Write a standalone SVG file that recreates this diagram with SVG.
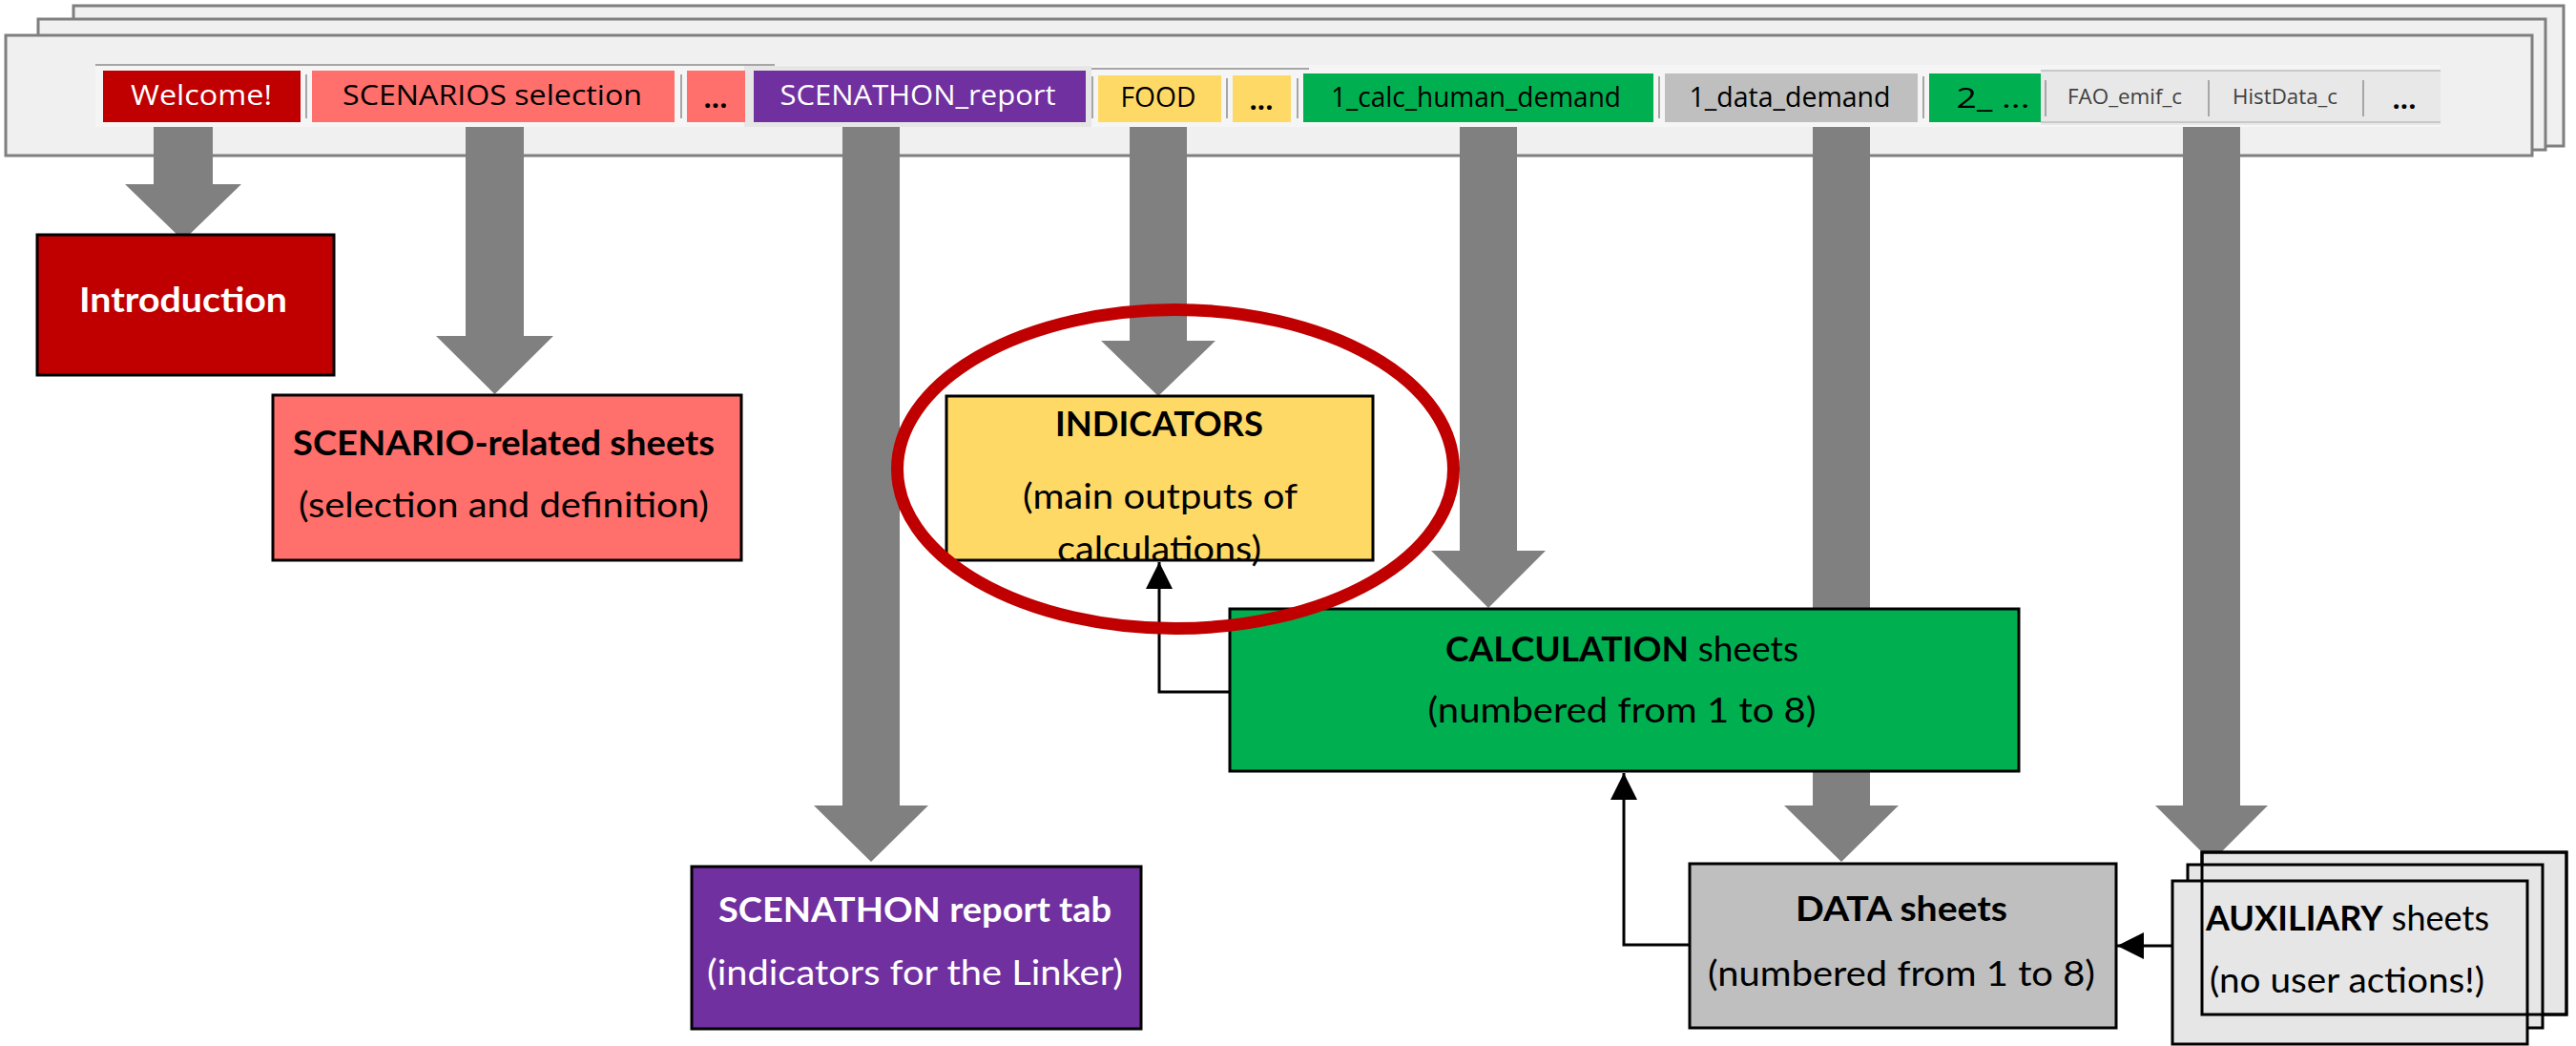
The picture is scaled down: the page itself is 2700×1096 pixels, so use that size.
<svg xmlns="http://www.w3.org/2000/svg" width="2700" height="1096" viewBox="0 0 2700 1096">
<style>
.sheet{fill:#f0f0f0;stroke:#7f7f7f;stroke-width:3}
.tab{stroke:none}
.tt{font-family:"Open Sans","Liberation Sans",sans-serif;font-size:29px;text-anchor:middle}
.ts{font-family:"Open Sans","Liberation Sans",sans-serif;font-size:21px;text-anchor:middle;fill:#404040}
.sep{stroke:#a6a6a6;stroke-width:2}
.shaft{fill:#808080}
.box{stroke:#000;stroke-width:3}
.t{font-family:Lato,"Open Sans",sans-serif;font-size:37px;text-anchor:middle;fill:#000}
.b{font-weight:bold}
.w{fill:#fff}
.conn{fill:none;stroke:#000;stroke-width:3}
</style>
<defs>
<marker id="ah" viewBox="0 0 10 10" refX="10" refY="5" markerWidth="28" markerHeight="28" markerUnits="userSpaceOnUse" orient="auto">
<path d="M0,0 L10,5 L0,10 Z" fill="#000"/>
</marker>
</defs>
<rect width="2700" height="1096" fill="#fff"/>

<g id="tabbar">
<rect class="sheet" x="77" y="6" width="2610" height="147"/>
<rect class="sheet" x="40" y="20" width="2628" height="137"/>
<rect class="sheet" x="6" y="37" width="2648" height="126"/>
<rect x="100" y="68" width="2458" height="65" fill="#f5f5f5"/>
<rect x="780" y="69" width="364" height="64" fill="#e6e6e6"/>
<rect x="2139" y="73" width="419" height="58" fill="#e8e8e8"/>
<line x1="100" y1="68" x2="812" y2="68" stroke="#a6a6a6" stroke-width="2"/>
<line x1="1144" y1="72" x2="1372" y2="72" stroke="#a6a6a6" stroke-width="2"/>
<line x1="2139" y1="74" x2="2558" y2="74" stroke="#c8c8c8" stroke-width="2"/>
<line x1="2139" y1="128" x2="2558" y2="128" stroke="#c8c8c8" stroke-width="2"/>
<g id="tab-welcome"><rect class="tab" x="108" y="74" width="207" height="54" fill="#c00000"/><text class="tt w" x="211" y="110" textLength="148" lengthAdjust="spacingAndGlyphs">Welcome!</text></g>
<line class="sep" x1="321" y1="78" x2="321" y2="124"/>
<g id="tab-scenarios"><rect class="tab" x="327" y="74" width="380" height="54" fill="#ff6f6b"/><text class="tt" x="516" y="110" textLength="314" lengthAdjust="spacingAndGlyphs">SCENARIOS selection</text></g>
<line class="sep" x1="714" y1="78" x2="714" y2="124"/>
<g id="tab-dots1"><rect class="tab" x="720" y="74" width="61" height="54" fill="#ff6f6b"/><text class="tt b" x="750" y="113">...</text></g>
<g id="tab-scenathon"><rect class="tab" x="790" y="74" width="348" height="54" fill="#7030a0"/><text class="tt w" x="962" y="110" textLength="289" lengthAdjust="spacingAndGlyphs">SCENATHON_report</text></g>
<line class="sep" x1="1145" y1="80" x2="1145" y2="124"/>
<g id="tab-food"><rect class="tab" x="1151" y="79" width="129" height="49" fill="#ffd966"/><text class="tt" x="1214" y="112" textLength="79" lengthAdjust="spacingAndGlyphs">FOOD</text></g>
<line class="sep" x1="1286" y1="82" x2="1286" y2="124"/>
<g id="tab-dots2"><rect class="tab" x="1292" y="79" width="61" height="49" fill="#ffd966"/><text class="tt b" x="1322" y="115">...</text></g>
<line class="sep" x1="1360" y1="82" x2="1360" y2="124"/>
<g id="tab-calc"><rect class="tab" x="1366" y="77" width="367" height="51" fill="#00b050"/><text class="tt" x="1547" y="112" textLength="304" lengthAdjust="spacingAndGlyphs">1_calc_human_demand</text></g>
<line class="sep" x1="1739" y1="80" x2="1739" y2="124"/>
<g id="tab-data"><rect class="tab" x="1745" y="77" width="265" height="51" fill="#bfbfbf"/><text class="tt" x="1876" y="112" textLength="211" lengthAdjust="spacingAndGlyphs">1_data_demand</text></g>
<line class="sep" x1="2016" y1="80" x2="2016" y2="124"/>
<g id="tab-2"><rect class="tab" x="2022" y="77" width="117" height="51" fill="#00b050"/><text class="tt" x="2089" y="113" textLength="77" lengthAdjust="spacingAndGlyphs">2_ ...</text></g>
<line class="sep" x1="2144" y1="84" x2="2144" y2="122"/>
<g id="tab-fao"><text class="ts" x="2227" y="109" textLength="120" lengthAdjust="spacingAndGlyphs">FAO_emif_c</text></g>
<line class="sep" x1="2315" y1="84" x2="2315" y2="122"/>
<g id="tab-hist"><text class="ts" x="2395" y="109" textLength="110" lengthAdjust="spacingAndGlyphs">HistData_c</text></g>
<line class="sep" x1="2477" y1="84" x2="2477" y2="122"/>
<g id="tab-dots3"><text class="tt b" x="2520" y="114" fill="#000">...</text></g>
</g>

<g id="connectors">
<path class="shaft" d="M161,133 H223 V193 H253 L192,252 L131,193 H161 Z"/>
<path class="shaft" d="M488,133 H549 V352 H580 L518.5,413 L457,352 H488 Z"/>
<path class="shaft" d="M883,133 H943 V844 H973 L913,903 L853,844 H883 Z"/>
<path class="shaft" d="M1184,133 H1244 V357 H1274 L1214,415 L1154,357 H1184 Z"/>
<path class="shaft" d="M1530,133 H1590 V577 H1620 L1560,637 L1500,577 H1530 Z"/>
<path class="shaft" d="M1900,133 H1960 V844 H1990 L1930,903 L1870,844 H1900 Z"/>
<path class="shaft" d="M2288,133 H2348 V844 H2377 L2318,903 L2259,844 H2288 Z"/>
<path class="conn" d="M1289,725 H1215 V589" marker-end="url(#ah)"/>
<path class="conn" d="M1771,990 H1702 V810" marker-end="url(#ah)"/>
<path class="conn" d="M2277,991 H2219" marker-end="url(#ah)"/>
</g>

<g id="introduction">
<rect class="box" x="39" y="246" width="311" height="147" fill="#c00000"/>
<text class="t b w" x="192" y="327" textLength="218" lengthAdjust="spacingAndGlyphs">Introduction</text>
</g>

<g id="scenario">
<rect class="box" x="286" y="414" width="491" height="173" fill="#ff6f6b"/>
<text class="t b" x="528" y="477" textLength="442" lengthAdjust="spacingAndGlyphs">SCENARIO-related sheets</text>
<text class="t" x="528" y="542" textLength="430" lengthAdjust="spacingAndGlyphs">(selection and definition)</text>
</g>

<g id="scenathon">
<rect class="box" x="725" y="908" width="471" height="170" fill="#7030a0"/>
<text class="t b w" x="959" y="966" textLength="412" lengthAdjust="spacingAndGlyphs">SCENATHON report tab</text>
<text class="t w" x="959" y="1032" textLength="436" lengthAdjust="spacingAndGlyphs">(indicators for the Linker)</text>
</g>

<g id="indicators">
<rect class="box" x="992" y="415" width="447" height="172" fill="#ffd966"/>
<text class="t b" x="1215" y="457" textLength="218" lengthAdjust="spacingAndGlyphs">INDICATORS</text>
<text class="t" x="1216" y="533" textLength="288" lengthAdjust="spacingAndGlyphs">(main outputs of</text>
<text class="t" x="1215" y="588" textLength="214" lengthAdjust="spacingAndGlyphs">calculations)</text>
</g>

<g id="calculation">
<rect class="box" x="1289" y="638" width="827" height="170" fill="#00b050"/>
<text class="t" x="1700" y="693" textLength="370" lengthAdjust="spacingAndGlyphs"><tspan class="b">CALCULATION</tspan> sheets</text>
<text class="t" x="1700" y="757" textLength="407" lengthAdjust="spacingAndGlyphs">(numbered from 1 to 8)</text>
</g>

<g id="data">
<rect class="box" x="1771" y="905" width="447" height="172" fill="#bfbfbf"/>
<text class="t b" x="1993" y="965" textLength="222" lengthAdjust="spacingAndGlyphs">DATA sheets</text>
<text class="t" x="1993" y="1033" textLength="406" lengthAdjust="spacingAndGlyphs">(numbered from 1 to 8)</text>
</g>

<g id="auxiliary">
<rect class="box" x="2308" y="893" width="382" height="170" fill="#e7e6e6"/>
<rect class="box" x="2293" y="906" width="372" height="171" fill="#e7e6e6"/>
<rect class="box" x="2277" y="923" width="372" height="171" fill="#e7e6e6"/>
<rect class="box" x="2308" y="893" width="382" height="170" fill="none"/>
<text class="t" x="2312" y="975" text-anchor="start" style="text-anchor:start" textLength="297" lengthAdjust="spacingAndGlyphs"><tspan class="b">AUXILIARY</tspan> sheets</text>
<text class="t" x="2316" y="1040" style="text-anchor:start" textLength="288" lengthAdjust="spacingAndGlyphs">(no user actions!)</text>
</g>

<g id="highlight">
<ellipse cx="1232" cy="491.5" rx="291.5" ry="167" fill="none" stroke="#c00000" stroke-width="13"/>
</g>
</svg>
